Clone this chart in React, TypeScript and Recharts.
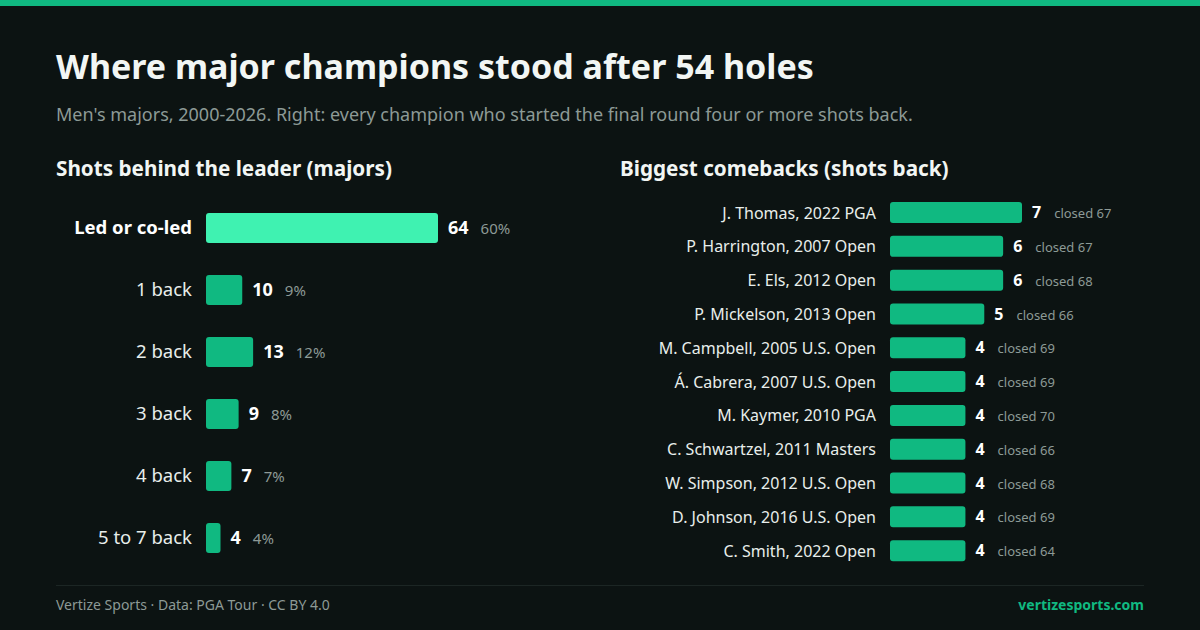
import React from 'react';
import { BarChart, Bar, XAxis, YAxis, Cell, LabelList } from 'recharts';

const leftCategories = ['Led or co-led', '1 back', '2 back', '3 back', '4 back', '5 to 7 back'];
const leftCounts = [64, 10, 13, 9, 7, 4];
const leftShares = ['60%', '9%', '12%', '8%', '7%', '4%'];

const comebackNames = [
  'J. Thomas, 2022 PGA',
  'P. Harrington, 2007 Open',
  'E. Els, 2012 Open',
  'P. Mickelson, 2013 Open',
  'M. Campbell, 2005 U.S. Open',
  'Á. Cabrera, 2007 U.S. Open',
  'M. Kaymer, 2010 PGA',
  'C. Schwartzel, 2011 Masters',
  'W. Simpson, 2012 U.S. Open',
  'D. Johnson, 2016 U.S. Open',
  'C. Smith, 2022 Open',
];
const comebackShots = [7, 6, 6, 5, 4, 4, 4, 4, 4, 4, 4];
const closingRounds = [67, 67, 68, 66, 69, 69, 70, 66, 68, 69, 64];

const BG = '#0c1312';
const GREEN = '#10b981';
const BRIGHT = '#3ff2b1';
const TEXT = '#e8eeeb';
const MUTED = '#8d9a96';
const FONT = '"Noto Sans", "Open Sans", sans-serif';

const leftData = leftCategories.map((name, i) => ({ name, count: leftCounts[i], share: leftShares[i] }));
const rightData = comebackNames.map((name, i) => ({ name, shots: comebackShots[i], closed: closingRounds[i] }));

const LeftTick = (props: any) => {
  const { x, y, payload, index } = props;
  const lead = index === 0;
  return (
    <text x={x} y={y} dy="0.35em" textAnchor="end" fill={lead ? '#ffffff' : TEXT}
      fontSize={18.5} fontWeight={lead ? 700 : 400} fontFamily={FONT}>
      {payload.value}
    </text>
  );
};

const RightTick = (props: any) => {
  const { x, y, payload } = props;
  return (
    <text x={x} y={y} dy="0.35em" textAnchor="end" fill={TEXT} fontSize={16} fontFamily={FONT}>
      {payload.value}
    </text>
  );
};

const leftLabel = (props: any) => {
  const { x, y, width, height, index } = props;
  const d = leftData[index];
  return (
    <text x={x + width + 10} y={y + height / 2} dy="0.35em" fontFamily={FONT}>
      <tspan fill="#ffffff" fontWeight={700} fontSize={18}>{d.count}</tspan>
      <tspan dx={12} fill={MUTED} fontSize={15}>{d.share}</tspan>
    </text>
  );
};

const rightLabel = (props: any) => {
  const { x, y, width, height, index } = props;
  const d = rightData[index];
  return (
    <text x={x + width + 10} y={y + height / 2} dy="0.35em" fontFamily={FONT}>
      <tspan fill="#ffffff" fontWeight={700} fontSize={16}>{d.shots}</tspan>
      <tspan dx={13} fill={MUTED} fontSize={13}>{`closed ${d.closed}`}</tspan>
    </text>
  );
};

export default function App() {
  return (
    <div style={{ position: 'relative', width: 1200, height: 630, background: BG, fontFamily: FONT, overflow: 'hidden' }}>
      <style>{'body{margin:0;}'}</style>
      <div style={{ position: 'absolute', left: 0, top: 0, width: 1200, height: 6, background: GREEN }} />
      <div style={{ position: 'absolute', left: 56, top: 43, fontSize: 34, fontWeight: 700, color: '#f2f6f4', lineHeight: '46px' }}>
        Where major champions stood after 54 holes
      </div>
      <div style={{ position: 'absolute', left: 56, top: 101, fontSize: 18, color: MUTED, lineHeight: '26px' }}>
        Men's majors, 2000-2026. Right: every champion who started the final round four or more shots back.
      </div>
      <div style={{ position: 'absolute', left: 56, top: 154, fontSize: 20.7, fontWeight: 700, color: '#f2f6f4', lineHeight: '28px' }}>
        Shots behind the leader (majors)
      </div>
      <div style={{ position: 'absolute', left: 620, top: 154, fontSize: 20.7, fontWeight: 700, color: '#f2f6f4', lineHeight: '28px' }}>
        Biggest comebacks (shots back)
      </div>

      <div style={{ position: 'absolute', left: 56, top: 197 }}>
        <BarChart width={520} height={372} data={leftData} layout="vertical"
          margin={{ top: 0, right: 138, bottom: 0, left: 0 }} barCategoryGap={0}>
          <XAxis type="number" hide domain={[0, 64]} />
          <YAxis type="category" dataKey="name" width={150} axisLine={false} tickLine={false}
            tickSize={0} tickMargin={14} tick={LeftTick} interval={0} />
          <Bar dataKey="count" barSize={30} radius={3} isAnimationActive={false}>
            {leftData.map((d, i) => (
              <Cell key={d.name} fill={i === 0 ? BRIGHT : GREEN} />
            ))}
            <LabelList dataKey="count" content={leftLabel} />
          </Bar>
        </BarChart>
      </div>

      <div style={{ position: 'absolute', left: 620, top: 196 }}>
        <BarChart width={532} height={372} data={rightData} layout="vertical"
          margin={{ top: 0, right: 130, bottom: 0, left: 0 }} barCategoryGap={0}>
          <XAxis type="number" hide domain={[0, 7]} />
          <YAxis type="category" dataKey="name" width={270} axisLine={false} tickLine={false}
            tickSize={0} tickMargin={14} tick={RightTick} interval={0} />
          <Bar dataKey="shots" barSize={21} radius={3} fill={GREEN} isAnimationActive={false}>
            <LabelList dataKey="shots" content={rightLabel} />
          </Bar>
        </BarChart>
      </div>

      <div style={{ position: 'absolute', left: 56, top: 585, width: 1088, height: 1, background: '#1c2624' }} />
      <div style={{ position: 'absolute', left: 56, top: 595, fontSize: 14, color: MUTED, lineHeight: '20px' }}>
        Vertize Sports · Data: PGA Tour · CC BY 4.0
      </div>
      <div style={{ position: 'absolute', right: 56, top: 595, fontSize: 14, fontWeight: 700, color: GREEN, lineHeight: '20px' }}>
        vertizesports.com
      </div>
    </div>
  );
}
